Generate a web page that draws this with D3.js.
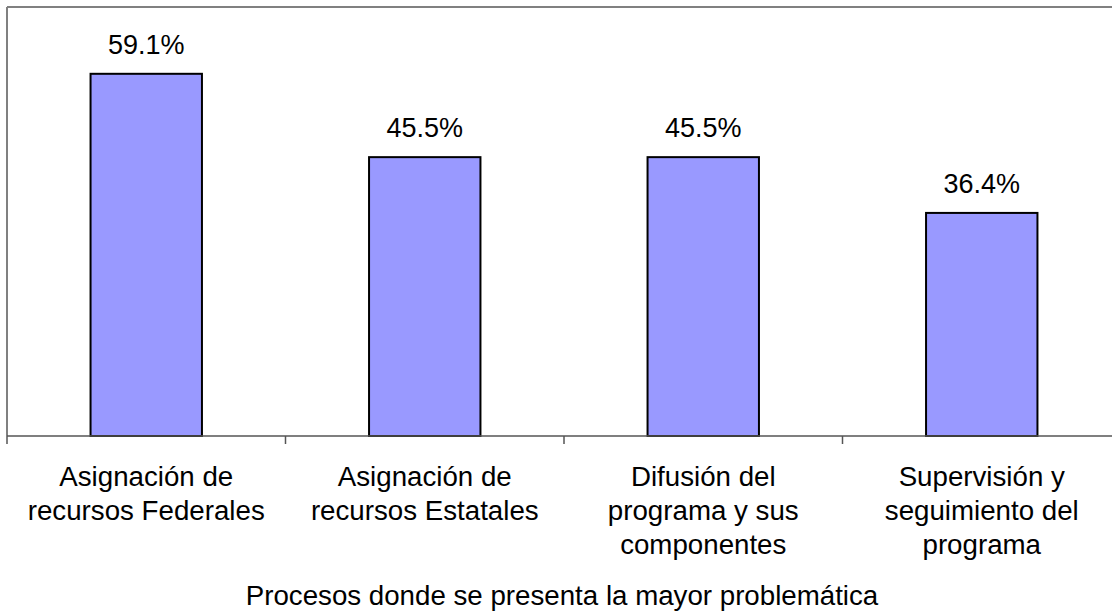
<!DOCTYPE html>
<html><head><meta charset="utf-8">
<script src="https://cdn.jsdelivr.net/npm/d3@7"></script>
<style>body{margin:0;background:#fff}svg{display:block}text{font-family:"Liberation Sans",Arial,sans-serif;fill:#000}</style>
</head><body>
<svg id="c" width="1112" height="612"></svg>
<script>
const categories = [
  ["Asignación de","recursos Federales"],
  ["Asignación de","recursos Estatales"],
  ["Difusión del","programa y sus","componentes"],
  ["Supervisión y","seguimiento del","programa"]
];
const values = [59.1, 45.5, 45.5, 36.4];
const axisTitle = "Procesos donde se presenta la mayor problemática";

(function(){
const svg = d3.select("#c");
const pLeft = 7, pRight = 1121, pTop = 7, base = 436;
const x = d3.scaleBand().domain(d3.range(values.length)).range([pLeft, pRight]).paddingInner(0.6).paddingOuter(0.3);
const xb = d3.scaleBand().domain(d3.range(values.length)).range([pLeft, pRight]);
const y = d3.scaleLinear().domain([0, 70]).range([base, pTop]);

svg.append("line").attr("x1", pLeft).attr("x2", 1112).attr("y1", pTop).attr("y2", pTop).attr("stroke", "#808080").attr("stroke-width", 2);
svg.append("line").attr("x1", pLeft).attr("x2", pLeft).attr("y1", pTop).attr("y2", base).attr("stroke", "#808080").attr("stroke-width", 2);

svg.selectAll("rect.bar").data(values).join("rect").attr("class","bar")
  .attr("x", (d,i) => x(i)).attr("width", x.bandwidth())
  .attr("y", d => y(d)).attr("height", d => base - y(d))
  .attr("fill", "#9999FF").attr("stroke", "#000").attr("stroke-width", 2);

svg.append("line").attr("x1", pLeft).attr("x2", 1112).attr("y1", base).attr("y2", base).attr("stroke", "#555").attr("stroke-width", 1.5);
svg.selectAll("line.tick").data(d3.range(values.length)).join("line").attr("class","tick")
  .attr("x1", i => xb(i)).attr("x2", i => xb(i)).attr("y1", base).attr("y2", base + 8)
  .attr("stroke", "#555").attr("stroke-width", 1.5);

svg.selectAll("text.val").data(values).join("text").attr("class","val")
  .attr("x", (d,i) => x(i) + x.bandwidth()/2).attr("y", d => y(d) - 20)
  .attr("text-anchor", "middle").attr("font-size", 27)
  .text(d => d.toFixed(1) + "%");

categories.forEach((lines, i) => {
  const cx = xb(i) + xb.bandwidth()/2;
  const t = svg.append("text").attr("text-anchor", "middle").attr("font-size", 27.7).attr("x", cx).attr("y", 486);
  lines.forEach((l, j) => t.append("tspan").attr("x", cx).attr("dy", j ? 34 : 0).text(l));
});

svg.append("text").attr("x", 562).attr("y", 605).attr("text-anchor", "middle").attr("font-size", 27.7).text(axisTitle);
})();
</script>
</body></html>
